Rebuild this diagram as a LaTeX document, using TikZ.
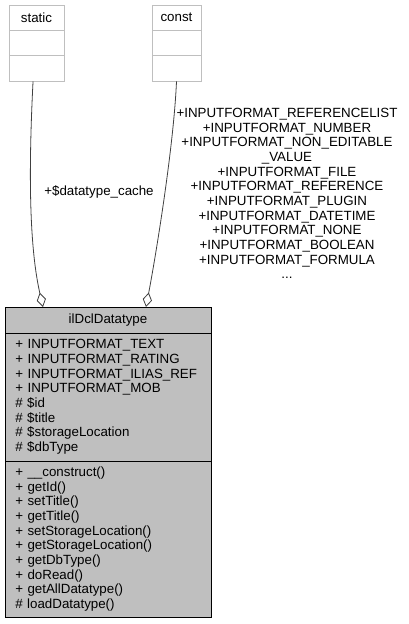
\documentclass[tikz,border=0pt]{standalone}
\usepackage{fontspec}
\setmainfont{Liberation Sans}
\usepackage{xcolor}
\usepackage{tikz}
\usetikzlibrary{positioning, arrows.meta}
\definecolor{dxGray}{RGB}{191, 191, 191}
\definecolor{dxEdge}{RGB}{64, 64, 64}
\tikzset{
    base/.style={
        font=\fontsize{10}{11}\selectfont,
        inner sep=0pt,
        outer sep=0pt
    },
    stub/.style={
        base,
        rectangle,
        draw=dxGray,
        line width=0.75pt,
        fill=white,
        minimum height=19.1pt
    },
    klass/.style={
        base,
        rectangle,
        draw=black,
        line width=0.75pt,
        fill=dxGray,
        minimum width=154.5pt
    },
    members/.style={
        klass,
        align=left,
        text width=139pt
    },
    aggr/.style={
        -{Diamond[open, length=11pt, width=7pt]},
        color=dxEdge,
        line width=0.6pt
    },
    role/.style={
        base,
        align=center
    }
}

\begin{document}
\begin{tikzpicture}[x=0.75pt, y=-0.75pt]
  \useasboundingbox (0,0) rectangle (408,624);

  % Stereotype boxes
  \node[stub, minimum width=41.25pt] (static) at (36.5,17.75) {static};
  \node[stub, minimum width=41.25pt, below=0pt of static] (staticattr) {};
  \node[stub, minimum width=41.25pt, below=0pt of staticattr] (staticops) {};
  \node[stub, minimum width=36.75pt] (const) at (176.5,17.75) {const};
  \node[stub, minimum width=36.75pt, below=0pt of const] (constattr) {};
  \node[stub, minimum width=36.75pt, below=0pt of constattr] (constops) {};

  % Class
  \node[klass, minimum height=19.5pt] (dcl) at (108,320) {ilDclDatatype};
  \node[members, minimum height=96pt, below=0pt of dcl] (dclattr) {%
    + INPUTFORMAT\_TEXT\\
    + INPUTFORMAT\_RATING\\
    + INPUTFORMAT\_ILIAS\_REF\\
    + INPUTFORMAT\_MOB\\
    \# \$id\\
    \# \$title\\
    \# \$storageLocation\\
    \# \$dbType};
  \node[members, minimum height=117pt, below=0pt of dclattr] (dclops) {%
    + \_\_construct()\\
    + getId()\\
    + setTitle()\\
    + getTitle()\\
    + setStorageLocation()\\
    + getStorageLocation()\\
    + getDbType()\\
    + doRead()\\
    + getAllDatatype()\\
    \# loadDatatype()};

  % Aggregations
  \draw[aggr] ([xshift=-2.6pt]staticops.south) .. controls +(-5,98) and +(-13,-57) .. ([xshift=-48.75pt]dcl.north);
  \draw[aggr] (constops.south) .. controls +(-3,68) and +(9,-47) .. ([xshift=28.5pt]dcl.north);

  % Roles
  \node[role] (cacherole) at (99,192) {+\$datatype\_cache};
  \node[role] (constrole) at (287,193.5) {+INPUTFORMAT\_REFERENCELIST\\
    +INPUTFORMAT\_NUMBER\\
    +INPUTFORMAT\_NON\_EDITABLE\\
    \_VALUE\\
    +INPUTFORMAT\_FILE\\
    +INPUTFORMAT\_REFERENCE\\
    +INPUTFORMAT\_PLUGIN\\
    +INPUTFORMAT\_DATETIME\\
    +INPUTFORMAT\_NONE\\
    +INPUTFORMAT\_BOOLEAN\\
    +INPUTFORMAT\_FORMULA\\
    ...};
\end{tikzpicture}
\end{document}
